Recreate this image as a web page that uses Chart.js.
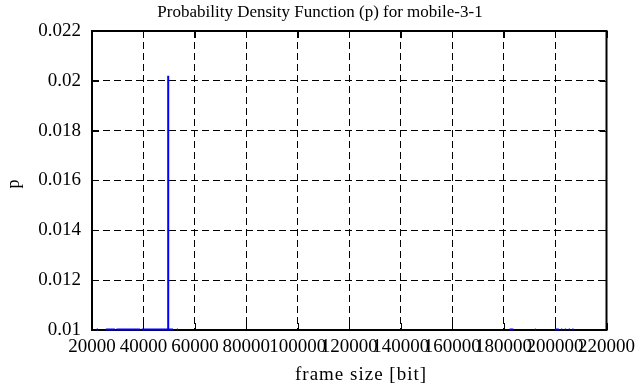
<!DOCTYPE html>
<html><head><meta charset="utf-8">
<script src="https://cdn.jsdelivr.net/npm/chart.js@4/dist/chart.umd.min.js"></script>
<style>html,body{margin:0;padding:0;background:#fff}#wrap{width:641px;height:387px;position:relative}</style>
</head><body><div id="wrap"><canvas id="c"></canvas></div>
<script>
const chartTitle = "Probability Density Function (p) for mobile-3-1";
const xAxisLabel = "frame size [bit]";
const yAxisLabel = "p";
const xTicks = [20000, 40000, 60000, 80000, 100000, 120000, 140000, 160000, 180000, 200000, 220000];
const yTicks = [0.01, 0.012, 0.014, 0.016, 0.018, 0.02, 0.022];
const frameSize = [21800, 22300, 23800, 25400, 28900, 29200, 29500, 38700, 39000, 39300, 49550, 49600, 49650, 51500, 52200, 53000, 53400, 120000, 182300, 183800, 188000, 192300, 192600, 196000, 200000, 201500, 201900, 202300, 202800, 203300, 203800, 204300, 204800, 205300, 205800, 206200, 206700, 207200];
const pValues = [0.01002, 0.01002, null, 0.01002, 0.01002, null, 0.01002, 0.01002, null, 0.01002, 0.01002, 0.0202, 0.01002, 0.01002, null, 0.01002, 0.01002, null, 0.01002, 0.01002, null, 0.01002, 0.01002, null, 0.01002, 0.01002, null, 0.01002, 0.01002, null, 0.01002, 0.01002, null, 0.01002, 0.01002, null, 0.01002, 0.01002];

const FONT = "'Liberation Serif', 'DejaVu Serif', serif";
const points = frameSize.map((x, i) => ({x: x, y: pValues[i]}));

const frame = {
  id: 'frame',
  beforeDatasetsDraw(chart) {
    const {ctx, chartArea: a, scales: {x, y}} = chart;
    ctx.save();
    ctx.strokeStyle = '#000';
    ctx.lineWidth = 1;
    ctx.beginPath();
    xTicks.forEach(v => {
      const px = Math.round(x.getPixelForValue(v)) + 0.5;
      ctx.moveTo(px, a.bottom); ctx.lineTo(px, a.bottom - 7);
      ctx.moveTo(px, a.top); ctx.lineTo(px, a.top + 7);
    });
    yTicks.forEach(v => {
      const py = Math.round(y.getPixelForValue(v)) + 0.5;
      ctx.moveTo(a.left, py); ctx.lineTo(a.left + 7, py);
      ctx.moveTo(a.right, py); ctx.lineTo(a.right - 7, py);
    });
    ctx.stroke();
    ctx.lineWidth = 2;
    ctx.strokeRect(a.left, a.top, a.right - a.left, a.bottom - a.top);
    ctx.restore();
  },
  afterDraw(chart) {
    const ctx = chart.ctx;
    ctx.save();
    ctx.fillStyle = '#000';
    ctx.textAlign = 'center';
    ctx.textBaseline = 'middle';
    ctx.font = "17px " + FONT;
    ctx.fillText(chartTitle, 320, 13);
    ctx.font = "19px " + FONT;
    if ('letterSpacing' in ctx) ctx.letterSpacing = '1px';
    ctx.fillText(xAxisLabel, 361, 375);
    if ('letterSpacing' in ctx) ctx.letterSpacing = '0px';
    ctx.font = "18px " + FONT;
    ctx.translate(14, 184);
    ctx.rotate(-Math.PI / 2);
    ctx.fillText(yAxisLabel, 0, 0);
    ctx.restore();
  }
};

new Chart(document.getElementById('c'), {
  type: 'line',
  data: {
    datasets: [{
      data: points,
      borderColor: '#0000ff',
      borderWidth: 2,
      pointRadius: 0,
      spanGaps: false,
      tension: 0,
      clip: false
    }]
  },
  options: {
    responsive: true,
    maintainAspectRatio: false,
    animation: false,
    layout: {padding: {top: 31, right: 33, left: 0, bottom: 0}},
    plugins: {legend: {display: false}, tooltip: {enabled: false}, title: {display: false}},
    scales: {
      x: {
        type: 'linear',
        min: 20000, max: 220000,
        afterFit(s) { s.height = 57; },
        afterBuildTicks(s) { s.ticks = xTicks.map(v => ({value: v})); },
        ticks: {autoSkip: false, maxRotation: 0, minRotation: 0, padding: 6, color: '#000',
          font: {family: FONT, size: 19}, callback: v => String(v)},
        grid: {color: '#000', lineWidth: 1, drawTicks: false},
        border: {display: false, dash: [7, 4]}
      },
      y: {
        min: 0.01, max: 0.022,
        afterFit(s) { s.width = 92; },
        afterBuildTicks(s) { s.ticks = yTicks.map(v => ({value: v})); },
        ticks: {padding: 11, color: '#000', font: {family: FONT, size: 19},
          callback: v => String(+Number(v).toFixed(3))},
        grid: {color: '#000', lineWidth: 1, drawTicks: false},
        border: {display: false, dash: [7, 4]}
      }
    }
  },
  plugins: [frame]
});
</script></body></html>
